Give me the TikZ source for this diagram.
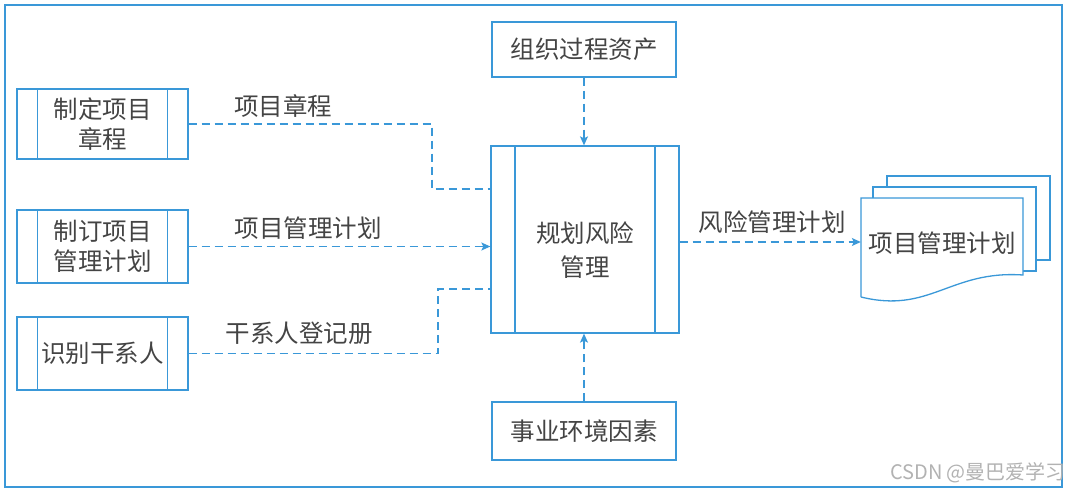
\documentclass[tikz,border=0pt]{standalone}
\usepackage{fontspec}
\setmainfont{Noto Sans CJK SC}
\usetikzlibrary{arrows.meta}
\definecolor{lineblue}{HTML}{3A98D8}
\definecolor{txt}{HTML}{444444}
\begin{document}
\begin{tikzpicture}[x=1pt,y=-1pt,
  every node/.style={text=txt,font=\fontsize{24.5}{30}\selectfont,inner sep=0pt},
  boxline/.style={draw=lineblue,line width=1.3pt},
  plainbox/.style={boxline,rectangle,align=center},
  proc/.style={plainbox,path picture={
     \draw[boxline] ([xshift=#1]path picture bounding box.north west) -- ([xshift=#1]path picture bounding box.south west);
     \draw[boxline] ([xshift=-#1]path picture bounding box.north east) -- ([xshift=-#1]path picture bounding box.south east);}},
  proc/.default=20.5pt,
  flow/.style={draw=lineblue,line width=1.2pt,dash pattern=on 8pt off 5pt},
  flowarrow/.style={flow,-{Stealth[length=9pt,width=8pt,inset=2pt]}},
  lbl/.style={font=\fontsize{24.5}{30}\selectfont}
]
\useasboundingbox (0,0) rectangle (1073,492);
% outer frame
\draw[boxline] (5,5) rectangle (1062,487);

% left process boxes
\node[proc,minimum width=171pt,minimum height=70pt] (b1) at (102.5,124) {制定项目\\章程};
\node[proc,minimum width=171pt,minimum height=73pt] (b2) at (102.5,246.5) {制订项目\\管理计划};
\node[proc,minimum width=171pt,minimum height=73pt] (b3) at (102.5,353.5) {识别干系人};

% centre process
\node[proc=24pt,minimum width=188pt,minimum height=187pt] (c) at (585,239.5) {};
\node[align=center,font=\fontsize{24.5}{34}\selectfont] (ct) at (585,250) {规划风险\\管理};

% top and bottom boxes
\node[plainbox,minimum width=184pt,minimum height=55pt] (t) at (584,49.5) {组织过程资产};
\node[plainbox,minimum width=184pt,minimum height=58pt] (e) at (584,431) {事业环境因素};

% document stack
\draw[boxline] (887,187) -- (887,176) -- (1050,176) -- (1050,260) -- (1036,260);
\draw[boxline] (873,198) -- (873,187) -- (1036,187) -- (1036,271) -- (1023,271);
\draw[boxline,fill=white] (861,297) -- (861,198) -- (1023,198) -- (1023,275)
   .. controls (950,270) and (930,314) .. (861,297);
\node[minimum width=162pt,minimum height=20pt] (doc) at (942,243) {项目管理计划};

% connectors
\draw[flow] (b1.east) -| (432,189) -- (c.west |- 0,189);
\draw[flowarrow] (b2.east) -- (c.west |- b2.east);
\draw[flow] (b3.east) -| (438,289) -- (c.west |- 0,289);
\draw[flowarrow] (t.south) -- (t.south |- c.north);
\draw[flowarrow] (e.north) -- (e.north |- c.south);
\draw[flowarrow] (c.east |- 0,242) -- (doc.west |- 0,242);

% labels
\node[lbl] (l1) at (283,106) {项目章程};
\node[lbl] (l2) at (308,228) {项目管理计划};
\node[lbl] (l3) at (299,333) {干系人登记册};
\node[lbl] (l4) at (772,222) {风险管理计划};

% watermark
\node[text=black!30,font=\fontsize{20}{22}\selectfont] (wm) at (978,473) {CSDN @曼巴爱学习};
\end{tikzpicture}
\end{document}
